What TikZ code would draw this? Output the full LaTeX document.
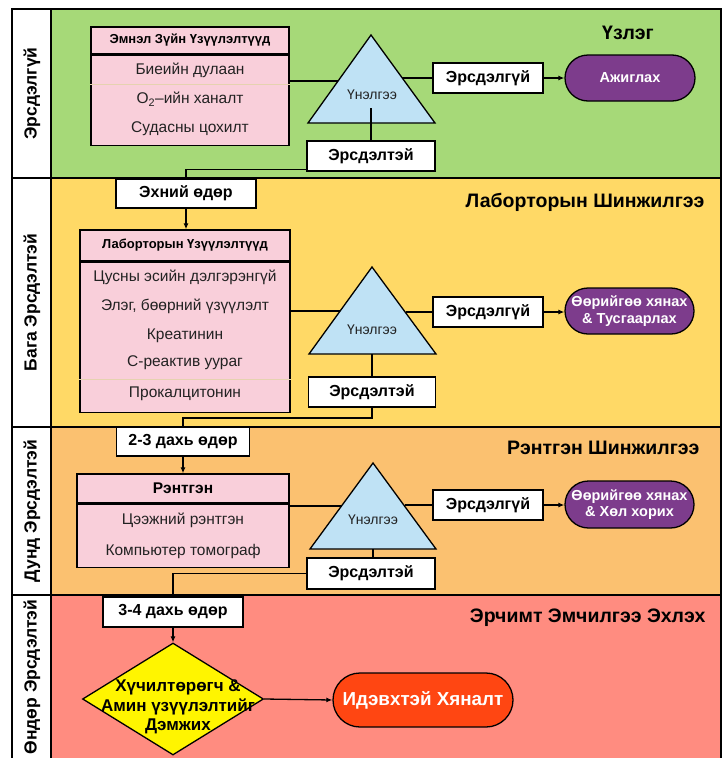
\documentclass[tikz,border=0pt]{standalone}
\usepackage{fontspec}
\setmainfont{Liberation Sans}
\usetikzlibrary{arrows.meta,shapes.geometric}
\definecolor{bgreen}{HTML}{A6D978}
\definecolor{byellow}{HTML}{FFD966}
\definecolor{borange}{HTML}{FBC170}
\definecolor{bred}{HTML}{FF8C80}
\definecolor{pinkc}{HTML}{F9CFDA}
\definecolor{tric}{HTML}{BFE2F5}
\definecolor{purp}{HTML}{7D3C8C}
\definecolor{hot}{HTML}{FF4612}
\definecolor{diac}{HTML}{FFF500}
\definecolor{txtc}{HTML}{222222}
\definecolor{faint}{HTML}{E6D2B0}
\begin{document}
\begin{tikzpicture}[x=1pt,y=-1pt,
  frame/.style={line width=1.6pt},
  conn/.style={line width=1.3pt},
  arr/.style={line width=1.3pt,-{Latex[length=6pt,width=5pt]}},
  wbox/.style={draw,line width=1.3pt,fill=white,inner sep=0pt,font=\fontsize{16}{18}\selectfont\bfseries},
  pbox/.style={draw,line width=1.3pt,fill=pinkc,inner sep=0pt},
  hdr/.style={font=\fontsize{13}{15}\selectfont\bfseries},
  rowtxt/.style={font=\fontsize{15.5}{18}\selectfont,text=txtc},
  trit/.style={font=\fontsize{14}{16}\selectfont,text=txtc},
  trishape/.style={draw,line width=1.3pt,fill=tric,line join=miter},
  term/.style={draw,line width=1.3pt,fill=purp,text=white,align=center,inner sep=0pt,font=\fontsize{14.5}{16.5}\selectfont\bfseries},
  ttl/.style={font=\fontsize{19.5}{22}\selectfont\bfseries},
  side/.style={rotate=90,font=\fontsize{17.5}{20}\selectfont\bfseries}
]
\useasboundingbox (0,0) rectangle (722,758);
\fill[white] (0,0) rectangle (722,758);
% bands
\fill[bgreen] (51,9) rectangle (721,178);
\fill[byellow] (51,178) rectangle (721,427);
\fill[borange] (51,427) rectangle (721,595);
\fill[bred] (51,595) rectangle (721,758);
\draw[frame] (12,758) -- (12,9) -- (721,9) -- (721,758);
\draw[frame] (51,9) -- (51,758);
\draw[frame] (12,178) -- (721,178);
\draw[frame] (12,427) -- (721,427);
\draw[frame] (12,595) -- (721,595);
% side labels
\node[side] (s1) at (32,93.5) {Эрсдэлгүй};
\node[side] (s2) at (32,302.5) {Бага Эрсдэлтэй};
\node[side] (s3) at (32,511) {Дунд Эрсдэлтэй};
\node[side] (s4) at (32,677) {Өндөр Эрсдэлтэй};
% titles
\node[ttl] (ti1) at (628,33) {Үзлэг};
\node[ttl,anchor=east] (ti2) at (708,202) {Лаборторын Шинжилгээ};
\node[ttl,anchor=east] (ti3) at (703,448) {Рэнтгэн Шинжилгээ};
\node[ttl,anchor=east] (ti4) at (709,618) {Эрчимт Эмчилгээ Эхлэх};

% ---------- band 1
\node[pbox,minimum width=198pt,minimum height=27pt] (h1) at (190,40.5) {};
\node[hdr] (h1t) at (h1) {Эмнэл Зүйн Үзүүлэлтүүд};
\node[pbox,minimum width=198pt,minimum height=90pt,anchor=north] (b1) at (h1.south) {};
\draw[faint,line width=0.8pt] (b1.west |- 0,84) -- (b1.east |- 0,84);
\node[rowtxt] (r11) at (190,70) {Биеийн дулаан};
\node[rowtxt] (r12) at (190,99) {O\textsubscript{2}–ийн ханалт};
\node[rowtxt] (r13) at (190,129) {Судасны цохилт};
\draw[trishape] (371,35) -- (435,123) -- (308,123) -- cycle;
\node[trit] (u1) at (372,95) {Үнэлгээ};
\node[wbox,minimum width=110pt,minimum height=30pt] (ok1) at (488,78) {Эрсдэлгүй};
\node[term,minimum width=130pt,minimum height=46pt,rounded corners=23pt] (term1) at (630,78) {Ажиглах};
\node[wbox,minimum width=128pt,minimum height=30pt] (risk1) at (371,156) {Эрсдэлтэй};
\node[wbox,minimum width=140pt,minimum height=29pt] (day1) at (186,193.5) {Эхний өдөр};
\coordinate (t1l) at (338,81);
\coordinate (t1r) at (402.3,78);
\coordinate (t1c) at (371,108);
\draw[conn] (b1.east |- t1l) -- (t1l);
\draw[conn] (t1r) -- (ok1.west);
\draw[arr] (ok1.east) -- (term1.west);
\draw[conn] (t1c) -- (risk1.north);
\draw[conn] ([yshift=2pt]risk1.south west) -| (day1.north);

% ---------- band 2
\node[pbox,minimum width=210pt,minimum height=31pt] (h2) at (185,245.5) {};
\node[hdr] (h2t) at (h2) {Лаборторын Үзүүлэлтүүд};
\node[pbox,minimum width=210pt,minimum height=150pt,anchor=north] (b2) at (h2.south) {};
\draw[faint,line width=0.8pt] (b2.west |- 0,379) -- (b2.east |- 0,379);
\node[rowtxt] (r21) at (185,277) {Цусны эсийн дэлгэрэнгүй};
\node[rowtxt] (r22) at (185,306) {Элэг, бөөрний үзүүлэлт};
\node[rowtxt] (r23) at (185,336) {Креатинин};
\node[rowtxt] (r24) at (185,363) {С-реактив уураг};
\node[rowtxt] (r25) at (185,394) {Прокалцитонин};
\draw[trishape] (372,267) -- (436,354) -- (309,354) -- cycle;
\node[trit] (u2) at (372,330) {Үнэлгээ};
\node[wbox,minimum width=110pt,minimum height=30pt] (ok2) at (488,312) {Эрсдэлгүй};
\node[term,minimum width=129pt,minimum height=46pt,rounded corners=23pt] (term2) at (629.5,311) {Өөрийгөө хянах\\\& Тусгаарлах};
\node[wbox,minimum width=127pt,minimum height=30pt] (risk2) at (372,392) {Эрсдэлтэй};
\node[wbox,minimum width=133pt,minimum height=29pt] (day2) at (183,441.5) {2-3 дахь өдөр};
\coordinate (t2l) at (340,311);
\coordinate (t2r) at (405.5,312);
\coordinate (t2b) at (372,354);
\coordinate (t2d) at (372,418);
\draw[arr] (day1.south) -- (day1.south |- h2.north);
\draw[conn] (b2.east |- t2l) -- (t2l);
\draw[conn] (t2r) -- (ok2.west);
\draw[arr] (ok2.east) -- (ok2.east -| term2.west);
\draw[conn] (t2b) -- (risk2.north);
\draw[conn] (risk2.south) -- (t2d) -| (day2.north);

% ---------- band 3
\node[pbox,minimum width=212pt,minimum height=29pt] (h3) at (183,488.5) {};
\node[font=\fontsize{15.5}{18}\selectfont\bfseries] (h3t) at (h3) {Рэнтгэн};
\node[pbox,minimum width=212pt,minimum height=63pt,anchor=north] (b3) at (h3.south) {};
\node[rowtxt] (r31) at (183,520) {Цээжний рэнтгэн};
\node[rowtxt] (r32) at (183,551) {Компьютер томограф};
\draw[trishape] (373,463) -- (436,549) -- (310,549) -- cycle;
\node[trit] (u3) at (373,520) {Үнэлгээ};
\node[wbox,minimum width=110pt,minimum height=30pt] (ok3) at (488,505) {Эрсдэлгүй};
\node[term,minimum width=129pt,minimum height=47pt,rounded corners=23.5pt] (term3) at (629.5,504.5) {Өөрийгөө хянах\\\& Хөл хорих};
\node[wbox,minimum width=128pt,minimum height=31pt] (risk3) at (371,573.5) {Эрсдэлтэй};
\node[wbox,minimum width=140pt,minimum height=30pt] (day3) at (173,612) {3-4 дахь өдөр};
\coordinate (t3l) at (341.5,506);
\coordinate (t3r) at (404.5,505);
\coordinate (t3b) at (373,549);
\draw[arr] (day2.south) -- (day2.south |- h3.north);
\draw[conn] (b3.east |- t3l) -- (t3l);
\draw[conn] (t3r) -- (ok3.west);
\draw[arr] (ok3.east) -- (term3.west |- ok3.east);
\draw[conn] (t3b) -- (t3b |- risk3.north);
\draw[conn] (risk3.west) -| (day3.north);

% ---------- band 4
\node[diamond,draw,line width=1.3pt,fill=diac,minimum width=181pt,minimum height=112pt,inner sep=0pt] (dia) at (173,699) {};
\node[align=center,font=\fontsize{17}{19.5}\selectfont\bfseries] (diat) at (178,707) {Хүчилтөрөгч \&\\Амин үзүүлэлтийг\\Дэмжих};
\node[term,fill=hot,minimum width=180pt,minimum height=54pt,rounded corners=27pt,font=\fontsize{18.8}{21}\selectfont\bfseries] (term4) at (423,700) {Идэвхтэй Хяналт};
\draw[arr] (day3.south) -- (dia.north);
\draw[arr] (dia.east) -- (term4.west);
\end{tikzpicture}
\end{document}
